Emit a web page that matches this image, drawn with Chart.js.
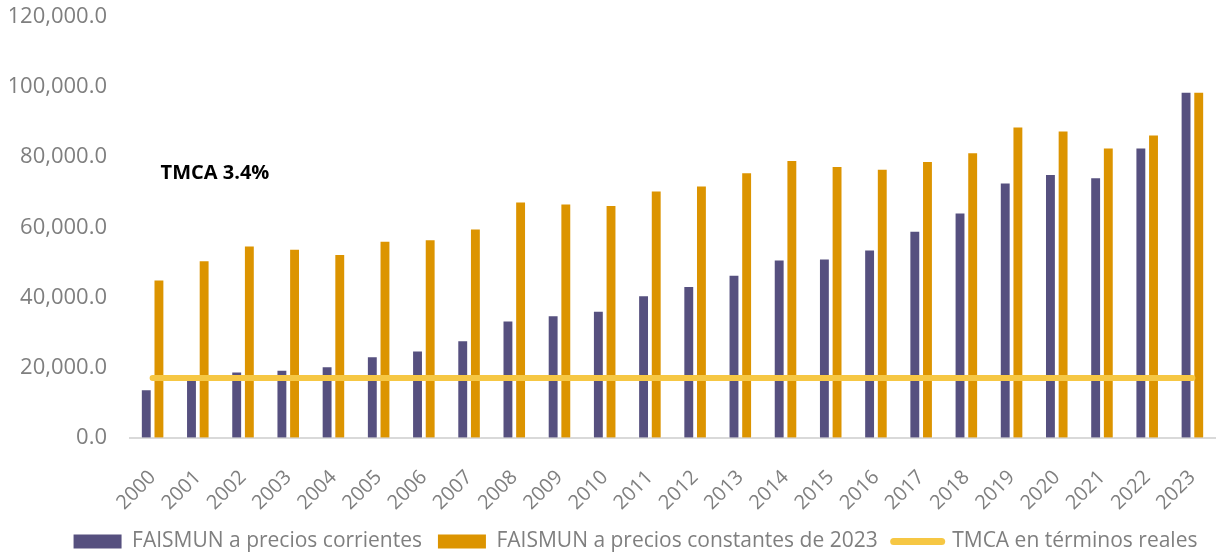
<!DOCTYPE html>
<html>
<head>
<meta charset="utf-8">
<script src="https://cdn.jsdelivr.net/npm/chart.js@4.4.1/dist/chart.umd.min.js"></script>
<style>
    body { margin: 0; background: #ffffff; }
    #wrap { width: 1217px; height: 552px; position: relative; }
</style>
</head>
<body>
<div id="wrap"><canvas id="chart"></canvas></div>
<script>
const years = ['2000', '2001', '2002', '2003', '2004', '2005', '2006', '2007', '2008', '2009', '2010', '2011',
               '2012', '2013', '2014', '2015', '2016', '2017', '2018', '2019', '2020', '2021', '2022', '2023'];

// millones de pesos
const preciosCorrientes = [13800, 16600, 18900, 19400, 20400, 23200, 24900, 27800, 33400, 34900, 36200, 40600,
                           43300, 46500, 50800, 51100, 53700, 59000, 64200, 72800, 75200, 74300, 82800, 98700];
const preciosConstantes = [45100, 50600, 54800, 53900, 52400, 56200, 56600, 59700, 67400, 66800, 66400, 70500,
                           71900, 75700, 79200, 77500, 76700, 78900, 81400, 88800, 87600, 82800, 86500, 98700];
const tmcaLinea = [17000, 17000, 17000, 17000, 17000, 17000, 17000, 17000, 17000, 17000, 17000, 17000,
                   17000, 17000, 17000, 17000, 17000, 17000, 17000, 17000, 17000, 17000, 17000, 17000];

const tmcaTexto = 'TMCA 3.4%';
const tmcaTextoNivel = 75500;
const yTicks = [0, 20000, 40000, 60000, 80000, 100000, 120000];

const grayText = '#7f7f7f';

// bold label in the upper left of the plot
const tmcaLabel = {
    id: 'tmcaLabel',
    afterDatasetsDraw(chart) {
        const ctx = chart.ctx;
        const x = chart.scales.x.getPixelForValue(0) + 8;
        const y = chart.scales.y.getPixelForValue(tmcaTextoNivel);
        ctx.save();
        ctx.font = 'bold 20px "Open Sans"';
        ctx.fillStyle = '#000000';
        ctx.textAlign = 'left';
        ctx.textBaseline = 'middle';
        ctx.fillText(tmcaTexto, x, y);
        ctx.restore();
    }
};

// the legend in the original sits a bit right of the canvas centre
const legendShift = {
    id: 'legendShift',
    afterLayout(chart) {
        chart.legend.left += 23;
        chart.legend.right += 23;
    }
};

const data = {
    labels: years,
    datasets: [
        {
            label: 'FAISMUN a precios corrientes',
            data: preciosCorrientes,
            backgroundColor: '#56507f',
            borderColor: 'rgba(255, 255, 255, 0.5)',
            borderWidth: 1,
            order: 1
        },
        {
            label: 'FAISMUN a precios constantes de 2023',
            data: preciosConstantes,
            backgroundColor: '#dc9400',
            borderColor: 'rgba(255, 255, 255, 0.5)',
            borderWidth: 1,
            order: 1
        },
        {
            type: 'line',
            label: 'TMCA en términos reales',
            data: tmcaLinea,
            borderColor: '#f6c744',
            backgroundColor: '#f6c744',
            borderWidth: 6,
            borderCapStyle: 'round',
            pointRadius: 0,
            order: 0
        }
    ]
};

const config = {
    type: 'bar',
    data: data,
    options: {
        responsive: true,
        maintainAspectRatio: false,
        animation: false,
        categoryPercentage: 0.56,
        barPercentage: 0.86,
        layout: {
            padding: { left: 10, right: 2, top: 17, bottom: -10 }
        },
        plugins: {
            title: { display: false },
            tooltip: { enabled: false },
            legend: {
                display: true,
                position: 'bottom',
                labels: {
                    usePointStyle: true,
                    pointStyleWidth: 48,
                    boxHeight: 14,
                    padding: 16,
                    color: grayText,
                    font: { family: 'Open Sans', size: 21 },
                    generateLabels: function(chart) {
                        return chart.data.datasets.map(function(ds, i) {
                            const isLine = ds.type === 'line';
                            return {
                                text: ds.label,
                                fillStyle: ds.backgroundColor,
                                strokeStyle: ds.borderColor,
                                lineWidth: isLine ? 7 : 0,
                                lineCap: 'round',
                                pointStyle: isLine ? 'line' : 'rect',
                                fontColor: grayText,
                                hidden: false,
                                datasetIndex: i
                            };
                        });
                    }
                }
            }
        },
        scales: {
            x: {
                grid: { display: false, drawTicks: false },
                border: { display: true, color: '#d9d9d9', width: 2 },
                ticks: {
                    color: grayText,
                    font: { family: 'Open Sans', size: 20 },
                    minRotation: 45,
                    maxRotation: 45,
                    padding: 28
                },
                afterFit: function(axis) {
                    axis.height -= 28;
                    axis.paddingLeft = 0;
                    axis.paddingRight = 0;
                }
            },
            y: {
                min: 0,
                max: 120000,
                grid: { display: false, drawTicks: false },
                border: { display: false },
                afterBuildTicks: function(axis) {
                    axis.ticks = yTicks.map(v => ({ value: v }));
                },
                afterFit: function(axis) {
                    axis.width = 120;
                    axis.paddingTop = 0;
                    axis.paddingBottom = 0;
                },
                ticks: {
                    color: grayText,
                    padding: 23,
                    font: { family: 'Open Sans', size: 22 },
                    callback: function(value) {
                        return value.toLocaleString('en-US', { minimumFractionDigits: 1, maximumFractionDigits: 1 });
                    }
                }
            }
        }
    },
    plugins: [tmcaLabel, legendShift]
};

const ctx = document.getElementById('chart').getContext('2d');
new Chart(ctx, config);
</script>
</body>
</html>
